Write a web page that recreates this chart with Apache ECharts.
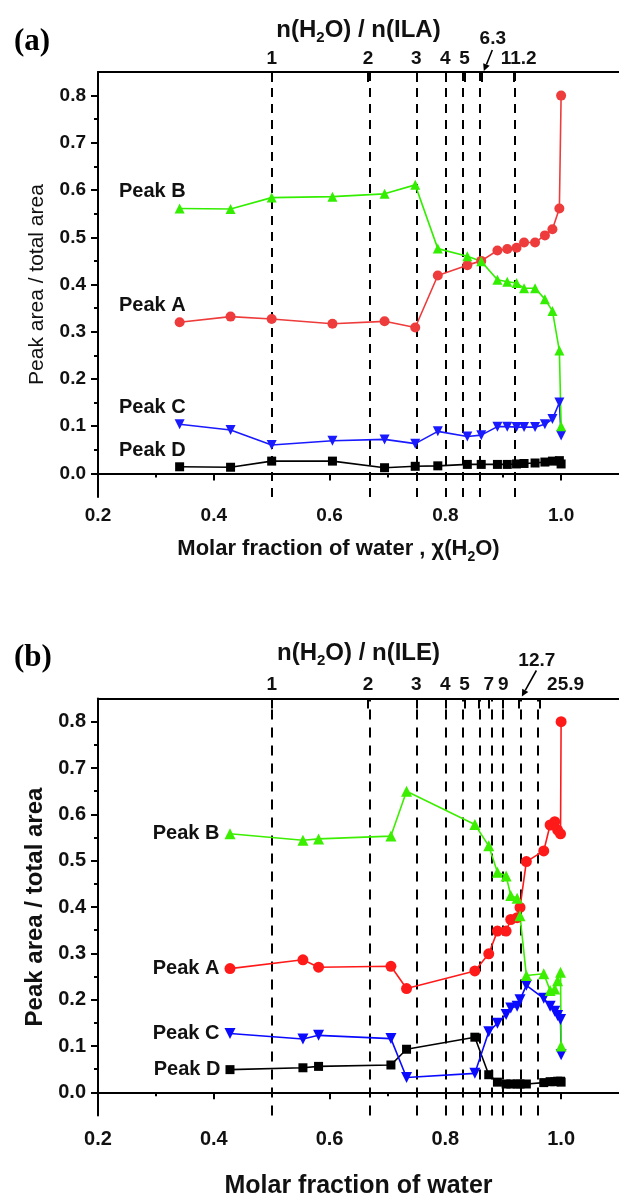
<!DOCTYPE html>
<html><head><meta charset="utf-8">
<script src="https://cdn.jsdelivr.net/npm/echarts@6/dist/echarts.min.js"></script>
<style>html,body{margin:0;padding:0;background:#fff}#c{width:619px;height:1200px}</style>
</head><body><div id="c"></div>
<script>
// ---------- Panel (a) data ----------
const xA = [0.341, 0.429, 0.500, 0.605, 0.695, 0.748, 0.787, 0.838, 0.862, 0.890, 0.907, 0.923, 0.936, 0.955, 0.972, 0.985, 0.997, 1.000];
const peakA_a = [0.320, 0.332, 0.327, 0.317, 0.322, 0.309, 0.419, 0.441, 0.450, 0.472, 0.475, 0.478, 0.489, 0.489, 0.504, 0.517, 0.561, 0.800];
const peakB_a = [0.561, 0.560, 0.584, 0.586, 0.592, 0.611, 0.476, 0.460, 0.449, 0.410, 0.406, 0.403, 0.392, 0.392, 0.369, 0.344, 0.260, 0.100];
const peakC_a = [0.104, 0.092, 0.060, 0.069, 0.072, 0.063, 0.089, 0.078, 0.081, 0.099, 0.099, 0.098, 0.098, 0.098, 0.104, 0.115, 0.150, 0.080];
const peakD_a = [0.014, 0.013, 0.026, 0.026, 0.012, 0.015, 0.016, 0.019, 0.019, 0.019, 0.019, 0.020, 0.021, 0.022, 0.024, 0.026, 0.027, 0.020];
// top axis n(H2O)/n(ILA)
const nTopA = [1, 2, 3, 4, 5, 6.3, 11.2];
const nTopA_labels = ['1', '2', '3', '4', '5', '6.3', '11.2'];

// ---------- Panel (b) data ----------
const xB = [0.428, 0.554, 0.581, 0.706, 0.733, 0.851, 0.875, 0.890, 0.905, 0.913, 0.924, 0.929, 0.940, 0.970, 0.981, 0.989, 0.994, 0.999, 1.000];
const peakA_b = [0.267, 0.286, 0.270, 0.272, 0.224, 0.262, 0.299, 0.348, 0.348, 0.373, 0.377, 0.399, 0.498, 0.521, 0.577, 0.584, 0.566, 0.558, 0.800];
const peakB_b = [0.558, 0.544, 0.547, 0.553, 0.650, 0.578, 0.532, 0.475, 0.467, 0.425, 0.419, 0.381, 0.252, 0.256, 0.220, 0.223, 0.241, 0.259, 0.100];
const peakC_b = [0.127, 0.115, 0.123, 0.116, 0.032, 0.041, 0.131, 0.149, 0.168, 0.182, 0.186, 0.200, 0.231, 0.203, 0.186, 0.175, 0.166, 0.157, 0.081];
const peakD_b = [0.049, 0.053, 0.056, 0.059, 0.093, 0.119, 0.038, 0.022, 0.018, 0.018, 0.018, 0.018, 0.018, 0.021, 0.023, 0.023, 0.024, 0.024, 0.022];
// top axis n(H2O)/n(ILE)
const nTopB = [1, 2, 3, 4, 5, 6, 7, 9, 12.7, 25.9];
const nTopB_labels = ['1', '2', '3', '4', '5', '', '7', '9', '12.7', '25.9'];

// ---------- tick values ----------
const xMajor = [0.2, 0.4, 0.6, 0.8, 1.0];
const xMinor = [0.3, 0.5, 0.7, 0.9];
const yMajor = [0.0, 0.1, 0.2, 0.3, 0.4, 0.5, 0.6, 0.7, 0.8];
const yMinor = [0.05, 0.15, 0.25, 0.35, 0.45, 0.55, 0.65, 0.75];

const FONT = "'Liberation Sans', Arial, sans-serif";
const chart = echarts.init(document.getElementById('c'), null, {renderer: 'canvas'});

// molar fraction of water corresponding to n(H2O)/n(IL)
const chi = n => n / (n + 1);
const chiA = nTopA.map(chi);
const chiB = nTopB.map(chi);

const XMIN = 0.2, XMAX = 1.1, YMIN = -0.05, YMAX = 0.85;

function topLabelFmt(chis, labels, special) {
  return v => {
    let k = 0, best = 1e9;
    chis.forEach((c, i) => { const d = Math.abs(c - v); if (d < best) { best = d; k = i; } });
    const s = labels[k];
    if (special[s]) return '{' + special[s] + '|' + s + '}';
    return '{n|' + s + '}';
  };
}

function axesFor(g, cfg) {
  const base = {gridIndex: g, type: 'value', min: XMIN, max: XMAX, splitLine: {show: false}};
  const bottom = Object.assign({}, base, {
    position: 'bottom', offset: 0,
    axisLine: {show: true, lineStyle: {color: '#000', width: 2}},
    axisTick: {show: true, customValues: xMajor, length: 7, lineStyle: {color: '#000', width: 2}},
    axisLabel: {customValues: xMajor, formatter: v => v.toFixed(1), fontSize: cfg.tickFont, fontWeight: 'bold', color: '#111', fontFamily: FONT, margin: cfg.xLabelMargin},
    name: cfg.xName, nameLocation: 'middle', nameGap: cfg.xNameGap,
    nameTextStyle: {padding: cfg.xNamePad, rich: {
      t: {fontSize: cfg.xNameFont, fontWeight: 'bold', color: '#111', fontFamily: FONT, lineHeight: 30},
      s: {fontSize: Math.round(cfg.xNameFont * 0.65), fontWeight: 'bold', color: '#111', fontFamily: FONT, lineHeight: 14, verticalAlign: 'bottom'}
    }}
  });
  const bottomMinor = Object.assign({}, base, {
    position: 'bottom', offset: 0,
    axisLine: {show: false},
    axisTick: {show: true, customValues: xMinor, length: 4, lineStyle: {color: '#000', width: 2}},
    axisLabel: {show: false}
  });
  const top = Object.assign({}, base, {
    position: 'top', offset: 0,
    axisLine: {show: true, lineStyle: {color: '#000', width: 2}},
    axisTick: {show: true, inside: true, customValues: cfg.chis, length: 10, lineStyle: {color: '#000', width: 2}},
    axisLabel: {customValues: cfg.labelChis, formatter: topLabelFmt(cfg.chis, cfg.labels, cfg.special), margin: 4,
      rich: {
        n: {fontSize: 19, fontWeight: 'bold', color: '#111', fontFamily: FONT},
        r1: {fontSize: 19, fontWeight: 'bold', color: '#111', fontFamily: FONT, padding: [0, 0, 0, 10]},
        r2: {fontSize: 19, fontWeight: 'bold', color: '#111', fontFamily: FONT, padding: [0, 0, 0, 52]}
      }},
    name: cfg.topName, nameLocation: 'middle', nameGap: cfg.topNameGap,
    nameTextStyle: {rich: {
      t: {fontSize: 24, fontWeight: 'bold', color: '#111', fontFamily: FONT, lineHeight: 30},
      s: {fontSize: 15, fontWeight: 'bold', color: '#111', fontFamily: FONT, lineHeight: 14, verticalAlign: 'bottom'}
    }}
  });
  return [bottom, bottomMinor, top];
}

function yAxesFor(g, cfg) {
  const base = {gridIndex: g, type: 'value', min: YMIN, max: YMAX, splitLine: {show: false}};
  return [
    Object.assign({}, base, {
      position: 'left',
      axisLine: {show: true, lineStyle: {color: '#000', width: 2}},
      axisTick: {show: true, customValues: yMajor, length: 7, lineStyle: {color: '#000', width: 2}},
      axisLabel: {customValues: yMajor, formatter: v => v.toFixed(1), fontSize: cfg.tickFont, fontWeight: 'bold', color: '#111', fontFamily: FONT, margin: 12},
      name: 'Peak area / total area', nameLocation: 'middle', nameGap: cfg.yNameGap,
      nameTextStyle: {fontSize: cfg.yNameFont, fontWeight: cfg.yNameWeight, color: '#111', fontFamily: FONT}
    }),
    Object.assign({}, base, {
      position: 'left',
      axisLine: {show: false},
      axisTick: {show: true, customValues: yMinor, length: 4, lineStyle: {color: '#000', width: 2}},
      axisLabel: {show: false}
    })
  ];
}

function peakSeries(g, name, xs, ys, color, symbol, rot, size, lbl) {
  const data = xs.map((x, i) => [x, ys[i]]);
  data[0] = {value: data[0], label: Object.assign({show: true, formatter: name, fontSize: 20, fontWeight: 'bold', color: '#111', fontFamily: FONT}, lbl)};
  return {
    type: 'line', name: name + g, xAxisIndex: g * 3, yAxisIndex: g * 2, data,
    symbol, symbolRotate: rot, symbolSize: size,
    itemStyle: {color}, lineStyle: {color, width: 1.6},
    label: {show: false}, z: 5, animation: false
  };
}

function guideSeries(g, chis, dash) {
  return {
    type: 'line', xAxisIndex: g * 3, yAxisIndex: g * 2, data: [], z: 1, animation: false,
    markLine: {silent: true, symbol: ['none', 'none'], label: {show: false}, animation: false,
      lineStyle: {color: '#000', type: dash, width: 2},
      emphasis: {disabled: true},
      data: chis.map(c => ({xAxis: c}))}
  };
}

const lblA = {position: 'top', align: 'right', offset: [6, 0], distance: 2};
const lblB = {position: 'left', distance: 5};

const cfgA = {
  tickFont: 19, xLabelMargin: 9, xNameGap: 37, xNameFont: 22, xNamePad: [0, 40, 0, 0],
  xName: '{t|Molar fraction of water , χ(H}{s|2}{t|O)}',
  chis: chiA, labels: nTopA_labels,
  labelChis: chiA.filter((c, i) => nTopA_labels[i] !== '6.3'),
  special: {'11.2': 'r1'},
  topName: '{t|n(H}{s|2}{t|O) / n(ILA)}', topNameGap: 27,
  yNameGap: 50, yNameFont: 21, yNameWeight: 'normal'
};
const cfgB = {
  tickFont: 20, xLabelMargin: 14, xNameGap: 56, xNameFont: 25, xNamePad: [0, 0, 0, 0],
  xName: '{t|Molar fraction of water}',
  chis: chiB, labels: nTopB_labels,
  labelChis: chiB.filter((c, i) => nTopB_labels[i] !== '' && nTopB_labels[i] !== '12.7'),
  special: {'25.9': 'r2'},
  topName: '{t|n(H}{s|2}{t|O) / n(ILE)}', topNameGap: 30,
  yNameGap: 48, yNameFont: 24, yNameWeight: 'bold'
};

const colA = {A: '#ee3b3b', B: '#33ee00', C: '#1a1aff', D: '#000000'};
const colB = {A: '#ff1a1a', B: '#3cee00', C: '#0a0aff', D: '#000000'};

const option = {
  animation: false,
  backgroundColor: '#fff',
  textStyle: {fontFamily: FONT},
  grid: [
    {left: 98, right: -8, top: 72, height: 425, containLabel: false},
    {left: 98, right: -8, top: 698.5, height: 425, containLabel: false}
  ],
  xAxis: axesFor(0, cfgA).concat(axesFor(1, cfgB)),
  yAxis: yAxesFor(0, cfgA).concat(yAxesFor(1, cfgB)),
  series: [
    guideSeries(0, chiA, [9, 7]),
    guideSeries(1, chiB, [10, 8]),
    peakSeries(0, 'Peak D', xA, peakD_a, colA.D, 'rect', 0, 9, lblA),
    peakSeries(0, 'Peak C', xA, peakC_a, colA.C, 'triangle', 180, 10, lblA),
    peakSeries(0, 'Peak A', xA, peakA_a, colA.A, 'circle', 0, 10, lblA),
    peakSeries(0, 'Peak B', xA, peakB_a, colA.B, 'triangle', 0, 10, lblA),
    peakSeries(1, 'Peak D', xB, peakD_b, colB.D, 'rect', 0, 9, lblB),
    peakSeries(1, 'Peak C', xB, peakC_b, colB.C, 'triangle', 180, 11, lblB),
    peakSeries(1, 'Peak A', xB, peakA_b, colB.A, 'circle', 0, 11, lblB),
    peakSeries(1, 'Peak B', xB, peakB_b, colB.B, 'triangle', 0, 11, lblB)
  ]
};
chart.setOption(option);

// ---------- annotations: panel letters and arrowed tick labels ----------
function arrow(x1, y1, x2, y2) {
  const dx = x2 - x1, dy = y2 - y1, L = Math.hypot(dx, dy);
  const ux = dx / L, uy = dy / L, nx = -uy, ny = ux, h = 7, w = 3.5;
  const bx = x2 - ux * h, by = y2 - uy * h;
  return [
    {type: 'line', shape: {x1, y1, x2: bx, y2: by}, style: {stroke: '#000', lineWidth: 1.6}, silent: true, z: 10},
    {type: 'polygon', shape: {points: [[x2, y2], [bx + nx * w, by + ny * w], [bx - nx * w, by - ny * w]]}, style: {fill: '#000'}, silent: true, z: 10}
  ];
}
const pA = chart.convertToPixel({gridIndex: 0}, [chi(nTopA[5]), YMAX]);
const pB = chart.convertToPixel({gridIndex: 1}, [chi(nTopB[8]), YMAX]);
const lblStyle = {fontSize: 19, fontWeight: 'bold', fill: '#111', fontFamily: FONT, align: 'center', verticalAlign: 'middle'};
const graphics = [
  {type: 'text', left: 14, top: 26, style: {text: '(a)', fontSize: 31, fontWeight: 'bold', fill: '#000', fontFamily: "'Liberation Serif', 'Times New Roman', serif"}},
  {type: 'text', left: 14, top: 642, style: {text: '(b)', fontSize: 31, fontWeight: 'bold', fill: '#000', fontFamily: "'Liberation Serif', 'Times New Roman', serif"}},
  {type: 'text', x: pA[0] + 11, y: pA[1] - 33, style: Object.assign({text: nTopA_labels[5]}, lblStyle)},
  {type: 'text', x: pB[0] + 18, y: pB[1] - 38, style: Object.assign({text: nTopB_labels[8]}, lblStyle)}
].concat(arrow(pA[0] + 10.5, pA[1] - 22, pA[0] + 2, pA[1] - 1))
 .concat(arrow(pB[0] + 17.5, pB[1] - 28, pB[0] + 3, pB[1] - 2));
chart.setOption({graphic: graphics});
</script></body></html>
